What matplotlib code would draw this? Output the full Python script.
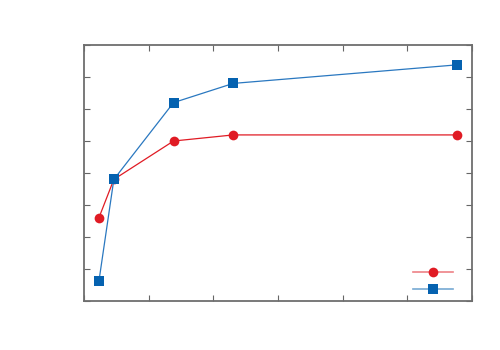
import matplotlib
matplotlib.use("Agg")
import matplotlib.pyplot as plt
from matplotlib.lines import Line2D

# data
x_vals = [1, 2, 6, 10, 25]
red_vals = [2.60, 3.80, 5.00, 5.19, 5.19]
blue_vals = [0.62, 3.80, 6.20, 6.80, 7.38]

x_ticks = [i * 26 / 6 for i in range(7)]
y_ticks = list(range(9))

red = "#e01b24"
blue = "#0562b0"

fig = plt.figure(figsize=(5, 3.5), dpi=100)
ax = fig.add_axes([0.168, 0.14, 0.776, 0.7314])

ax.plot(x_vals, red_vals, color=red, linewidth=0.9,
        marker="o", markersize=7, markeredgewidth=0)
ax.plot(x_vals, blue_vals, color="#2a78c0", linewidth=0.9,
        marker="s", markersize=6.6, markerfacecolor=blue,
        markeredgewidth=0)

ax.set_xlim(0, 26)
ax.set_ylim(0, 8)
ax.set_xticks(x_ticks)
ax.set_yticks(y_ticks)
ax.set_xticklabels([])
ax.set_yticklabels([])

ax.tick_params(direction="in", length=4, width=0.8, color="#666666",
               top=True, right=True)

for side in ax.spines:
    ax.spines[side].set_color("#6e6e6e")
    ax.spines[side].set_linewidth(1.3)

# legend handles: faint line with solid marker on top
red_handle = (Line2D([], [], color=red, linewidth=1.2, alpha=0.55),
              Line2D([], [], color=red, linestyle="none",
                     marker="o", markersize=7, markeredgewidth=0))
blue_handle = (Line2D([], [], color=blue, linewidth=1.2, alpha=0.55),
               Line2D([], [], color=blue, linestyle="none",
                      marker="s", markersize=6.6, markeredgewidth=0))

fig.legend(
    [red_handle, blue_handle],
    ["", ""],
    loc="center",
    bbox_to_anchor=(433 / 500, (350 - 281) / 350),
    frameon=False,
    handlelength=2.95,
    handletextpad=0,
    borderpad=0,
    labelspacing=0.23
)

fig.savefig("out.png", dpi=100)
